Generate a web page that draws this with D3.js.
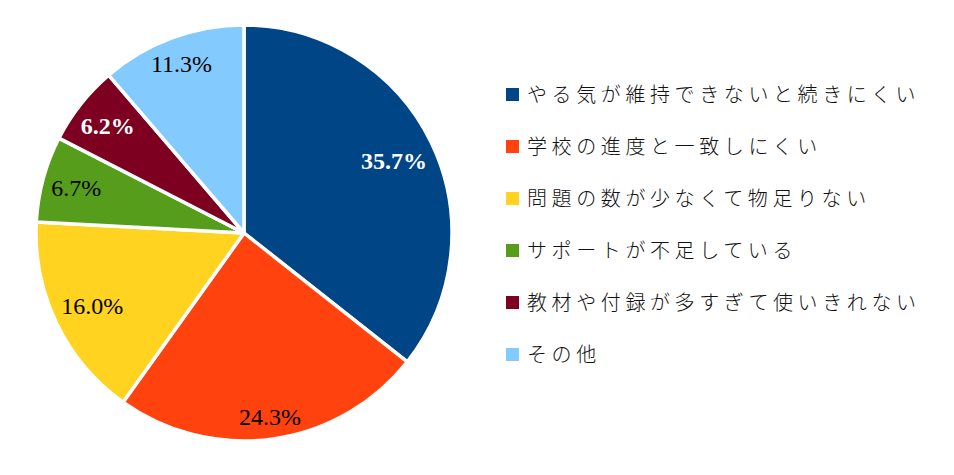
<!DOCTYPE html>
<html>
<head>
<meta charset="utf-8">
<script src="https://cdn.jsdelivr.net/npm/d3@7"></script>
<style>
    body { margin: 0; background: #fff; }
    svg { display: block; }
</style>
</head>
<body>
<svg id="chart" width="954" height="475"></svg>
<script>
// Chart data
const categories = [
    "やる気が維持できないと続きにくい",
    "学校の進度と一致しにくい",
    "問題の数が少なくて物足りない",
    "サポートが不足している",
    "教材や付録が多すぎて使いきれない",
    "その他"
]
const values = [35.7, 24.3, 16.0, 6.7, 6.2, 11.3]
const labels = ["35.7%", "24.3%", "16.0%", "6.7%", "6.2%", "11.3%"]
const colors = ["#004586", "#ff420e", "#ffd320", "#579d1c", "#7e0021", "#83caff"]
const labelColors = ["#fff", "#000", "#000", "#000", "#fff", "#000"]

const svg = d3.select("#chart")
const cx = 244, cy = 233, radius = 208

// Pie slices
const pie = d3.pie().sort(null).value(d => d)
const arcs = pie(values)
const arc = d3.arc().innerRadius(0).outerRadius(radius)

const g = svg.append("g").attr("transform", `translate(${cx},${cy})`)

g.selectAll("path")
    .data(arcs)
    .enter()
    .append("path")
    .attr("d", arc)
    .attr("fill", (d, i) => colors[i])
    .attr("stroke", "#fff")
    .attr("stroke-width", 3.5)
    .attr("stroke-linejoin", "round")

// Percent labels: push each label out along its mid angle
// until its outer corner touches an inner circle
const innerFit = radius - 8
const halfH = 8
g.selectAll("text")
    .data(arcs)
    .enter()
    .append("text")
    .attr("text-anchor", "middle")
    .attr("dy", "0.35em")
    .attr("font-family", "'Liberation Serif', 'Times New Roman', serif")
    .attr("font-size", 24)
    .attr("font-weight", (d, i) => labelColors[i] === "#fff" ? "bold" : "normal")
    .attr("fill", (d, i) => labelColors[i])
    .text((d, i) => labels[i])
    .each(function (d) {
        const a = (d.startAngle + d.endAngle) / 2
        const ux = Math.sin(a), uy = -Math.cos(a)
        const halfW = this.getComputedTextLength() / 2
        const ox = Math.sign(ux) * halfW, oy = Math.sign(uy) * halfH
        const b = ux * ox + uy * oy
        const c = halfW * halfW + halfH * halfH - innerFit * innerFit
        const r = -b + Math.sqrt(b * b - c)
        d3.select(this).attr("transform", `translate(${r * ux},${r * uy})`)
    })

// Legend
const legend = svg.append("g").attr("transform", "translate(506,88)")
const row = legend.selectAll("g")
    .data(categories)
    .enter()
    .append("g")
    .attr("transform", (d, i) => `translate(0,${i * 52})`)

row.append("rect")
    .attr("width", 13)
    .attr("height", 13)
    .attr("fill", (d, i) => colors[i])

row.append("text")
    .attr("x", 21)
    .attr("y", 14)
    .attr("font-family", "'Noto Sans CJK JP', sans-serif")
    .attr("font-weight", 300)
    .attr("font-size", 20)
    .attr("letter-spacing", 4.6)
    .attr("fill", "#111")
    .text(d => d)
</script>
</body>
</html>
